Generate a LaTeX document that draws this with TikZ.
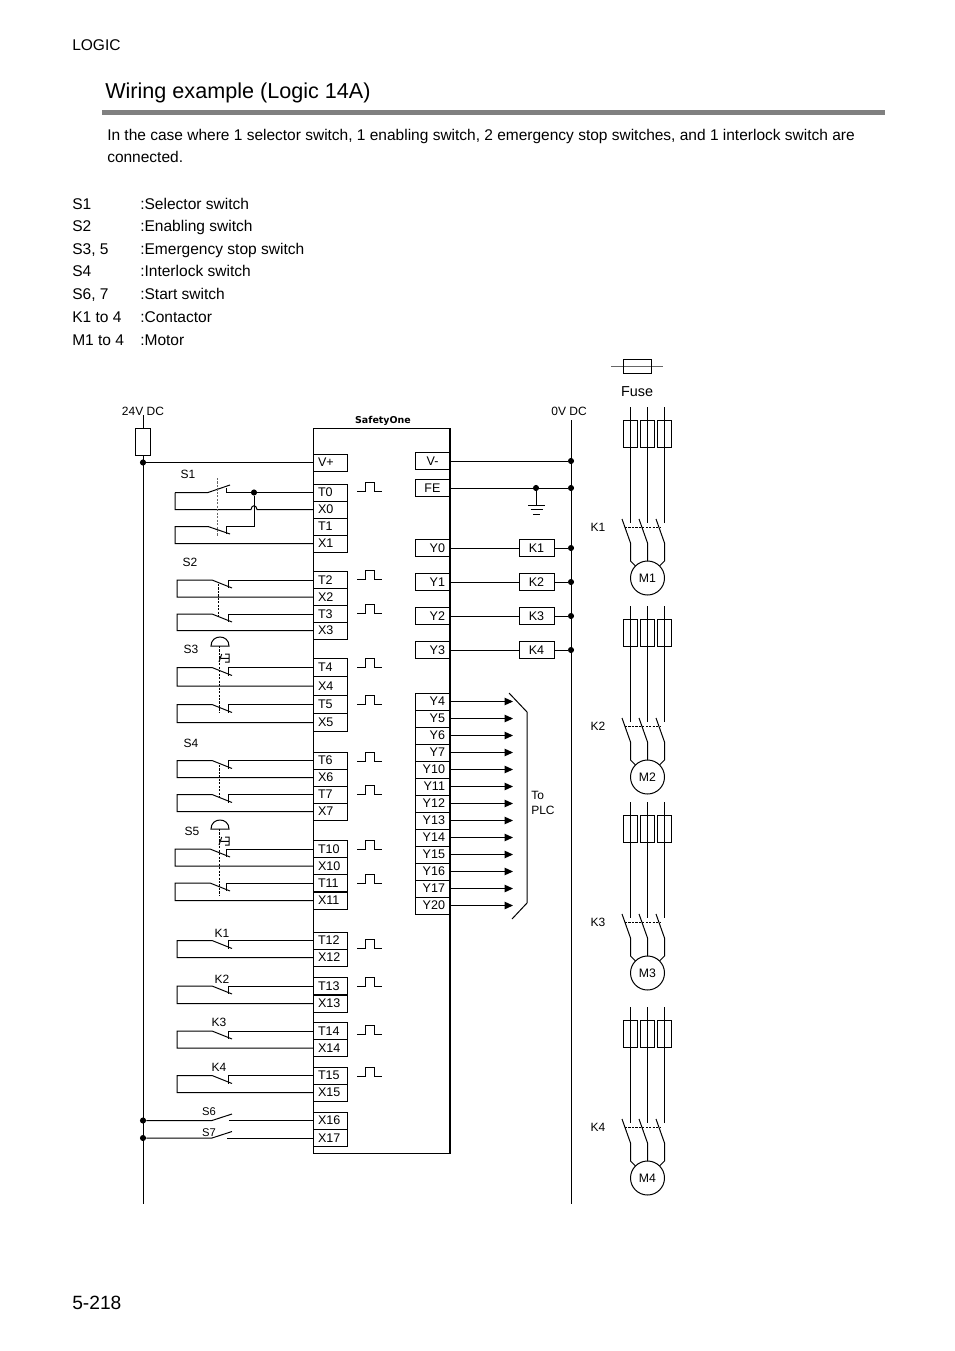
\documentclass[tikz,border=0pt]{standalone}
\usepackage{fontspec}
\setmainfont{Liberation Sans}
\newfontfamily\logofont{DejaVu Sans}
\usetikzlibrary{arrows.meta}
\tikzset{
    wire/.style={line width=0.75pt},
    pagetext/.style={font=\fontsize{11.65}{16.5}\selectfont,anchor=base west,inner sep=0pt},
    smalltext/.style={font=\fontsize{9}{11.3}\selectfont,inner sep=0pt},
    term/.style={draw,line width=0.75pt,fill=white,anchor=west,outer sep=0pt,font=\fontsize{9.4}{11}\selectfont,
        inner xsep=3.75pt,inner ysep=0pt,text width=18pt,align=left,minimum height=12.75pt},
    rterm/.style={term,text width=18.75pt,align=right},
    cterm/.style={rterm,align=center},
    tall/.style={minimum height=13.9pt},
    fuse/.style={draw,line width=0.75pt,fill=none,inner sep=0pt,minimum width=10.8pt,minimum height=20.25pt},
    dot/.style={circle,fill=black,inner sep=0pt,minimum size=4.6pt},
    motor/.style={draw,circle,line width=0.75pt,inner sep=0pt,outer sep=0pt,minimum size=25.5pt,font=\fontsize{9.2}{11}\selectfont},
    link/.style={line width=0.6pt,dash pattern=on 1.6pt off 1pt},
}
\begin{document}
\begin{tikzpicture}[x=0.75pt,y=-0.75pt]
    \useasboundingbox (0,0) rectangle (954,1351);
    %Page text
    \node[pagetext] (header) at (72,50.5) {LOGIC};
    \node[pagetext,font=\fontsize{16.2}{20}\selectfont] (title) at (105,99) {Wiring example (Logic 14A)};
    \fill[black!50] (102,110.5) rectangle (885,115.5);
    \node[pagetext,align=left,font=\fontsize{11.62}{16.5}\selectfont] (intro) at (107,163) {In the case where 1 selector switch, 1 enabling switch, 2 emergency stop switches, and 1 interlock switch are\\connected.};
    \foreach \i/\a/\b/\y in {1/S1/Selector switch/209.5,2/S2/Enabling switch/232,3/{S3, 5}/Emergency stop switch/254.5,
        4/S4/Interlock switch/277,5/{S6, 7}/Start switch/299.5,6/K1 to 4/Contactor/322.5,7/M1 to 4/Motor/345.5} {
        \node[pagetext] (key\i) at (72,\y) {\a};
        \node[pagetext] (val\i) at (140,\y) {:\b};
    }
    \node[pagetext,font=\fontsize{14.4}{18}\selectfont] (page) at (72,1309) {5-218};
    %Fuse legend
    \coordinate (legl) at (611,367);
    \coordinate (legr) at (663,367);
    \draw[wire,black!60] (legl) -- (legr);
    \node[draw,line width=0.75pt,inner sep=0pt,minimum width=21pt,minimum height=10.5pt] (leg) at (637,367) {};
    \node[font=\fontsize{10.8}{13}\selectfont,inner sep=0pt] (legtext) at (637,391.5) {Fuse};
    %Unit
    \node[smalltext] (top24) at (143,411) {24V DC};
    \node[smalltext] (top0) at (569,411) {0V DC};
    \node[font=\logofont\bfseries\fontsize{7.1}{9}\selectfont,inner sep=0pt] (logo) at (383,420.5) {SafetyOne};
    \node[draw,line width=0.75pt,anchor=north west,outer sep=0pt,minimum width=102.75pt,minimum height=543.75pt,inner sep=0pt] (unit) at (313,428) {};
    %Left terminals
    \node[term] (Vp) at (313,462.5) {V+};
    \foreach \t/\y in {T0/492.5,X0/509.5,T1/526.5,X1/543.5,T2/580,X2/597,T3/614,X3/630.5,
        T6/760.5,X6/777.5,T7/794.5,X7/811.5,T10/849,X10/866,T11/883,X11/900.5,
        T12/940.5,X12/957.5,T13/986,X13/1003.5,T14/1031,X14/1048,T15/1075.5,X15/1092.5,X16/1120.5,X17/1138} {
        \node[term] (\t) at (313,\y) {\t};
    }
    \foreach \t/\y in {T4/667.5,X4/686,T5/704.5,X5/722.5} {
        \node[term,tall] (\t) at (313,\y) {\t};
    }
    %Right terminals
    \node[cterm] (Vm) at (415,461) {V-};
    \node[cterm] (FE) at (415,488) {FE};
    \foreach \t/\y in {Y0/548,Y1/582,Y2/616,Y3/650,Y4/701.5,Y5/718.5,Y6/735.5,Y7/752.5,Y10/769.5,Y11/786.5,
        Y12/803.5,Y13/820.5,Y14/837.5,Y15/854.5,Y16/871.5,Y17/888.5,Y20/905.5} {
        \node[rterm] (\t) at (415,\y) {\t};
    }
    \draw[line width=1.6pt] (unit.north east) -- (unit.south east);
    %24V rail
    \coordinate (railat) at (143,415);
    \coordinate (railab) at (143,1204);
    \draw[wire] (railat) -- (railab);
    \node[fuse,fill=white] (fuse24) at (143,441.5) {};
    \node[dot] (dotV) at (143,462.5) {};
    \node[dot] (dot16) at (143,1120.5) {};
    \node[dot] (dot17) at (143,1138) {};
    \draw[wire] (dotV) -- (Vp.west);
    %0V rail
    \coordinate (railbt) at (571,420);
    \coordinate (railbb) at (571,1204);
    \draw[wire] (railbt) -- (railbb);
    \node[dot] (dotVm) at (571,461) {};
    \node[dot] (dotFE) at (571,488) {};
    \draw[wire] (Vm.east) -- (dotVm);
    \draw[wire] (FE.east) -- (dotFE);
    %Ground
    \node[dot] (dotG) at (536,488) {};
    \coordinate (gnd) at (536,505);
    \draw[wire] (dotG) -- (gnd);
    \draw[wire] (528,505) -- (545,505);
    \draw[wire] (530.5,509.5) -- (542.5,509.5);
    \draw[wire] (533,514) -- (539.5,514);
    %Coils
    \foreach \y/\k in {Y0/1,Y1/2,Y2/3,Y3/4} {
        \node[cterm] (K\k) at (519,0 |- \y.east) {K\k};
        \node[dot] (dotK\k) at (571,0 |- \y.east) {};
        \draw[wire] (\y.east) -- (K\k.west);
        \draw[wire] (K\k.east) -- (dotK\k);
    }
    %Outputs to PLC
    \foreach \y in {Y4,Y5,Y6,Y7,Y10,Y11,Y12,Y13,Y14,Y15,Y16,Y17,Y20} {
        \coordinate (\y e) at (513,0 |- \y.east);
        \draw[wire,-{Triangle[length=6.2pt,width=5.5pt]}] (\y.east) -- (\y e);
    }
    \draw[wire] (509,693) -- (527,712) -- (527,903) -- (512,919);
    \node[smalltext,anchor=west,align=left] (plc) at (531,802.5) {To\\PLC};
    %Test pulses
    \foreach \y in {491.5,579,613,667,704,761,794,849,883,948,986,1034,1076} {
        \draw[wire] (357,\y) -- ++(8,0) -- ++(0,-9) -- ++(9,0) -- ++(0,9) -- ++(8,0);
    }
    %S1
    \node[smalltext] (S1) at (188,474) {S1};
    \node[dot] (dotS1) at (254,492.5) {};
    \coordinate (T0l) at (175,0 |- T0.west);
    \coordinate (T0b) at (208,0 |- T0.west);
    \coordinate (T1l) at (175,0 |- T1.west);
    \coordinate (T1b) at (208,0 |- T1.west);
    \draw[wire] (T0.west) -- (226,492.5) -- (226,488);
    \draw[wire] (T0l) -- (T0b) -- (230,485);
    \draw[wire] (X0.west) -- (257,509.5) .. controls (256.5,504.5) and (251.5,504.5) .. (251,509.5) -- (175,509.5) -- (T0l);
    \draw[wire] (X1.west) -- (175,543.5) -- (T1l) -- (T1b) -- (230,534);
    \draw[wire] (dotS1) -- (254,526.5) -- (226,526.5) -- (226,534);
    \draw[link,black!60] (217,478) -- (217,536);
    %NC contacts
    \foreach \t/\x/\lx/\bx in {T2/X2/177/212,T3/X3/177/212,T4/X4/177/212,T5/X5/177/212,T6/X6/177/212,T7/X7/177/212,
        T10/X10/175/210,T11/X11/175/210,T12/X12/177/212,T13/X13/177/212,T14/X14/177/212,T15/X15/177/212} {
        \coordinate (\t l) at (\lx,0 |- \t.west);
        \coordinate (\t b) at (\bx,0 |- \t.west);
        \coordinate (\t r) at ([shift={(16,8)}]\t b);
        \coordinate (\x l) at (\lx,0 |- \x.west);
        \draw[wire] (\x.west) -- (\x l) -- (\t l) -- (\t b) -- ++(20,8);
        \draw[wire] (\t.west) -| (\t r);
    }
    %S2 and S4
    \node[smalltext] (S2) at (190,562) {S2};
    \node[smalltext] (S4) at (191,743) {S4};
    \draw[link] (218,584) -- (218,616);
    \draw[link] (219,765) -- (219,798);
    %S3 and S5
    \node[smalltext] (S3) at (191,649) {S3};
    \node[smalltext] (S5) at (192,831) {S5};
    \foreach \y in {0,183} {
        \begin{scope}[yshift=-0.75pt*\y]
            \draw[wire] (211,646) .. controls (211,634) and (229,634) .. (229,646) -- cycle;
            \draw[wire] (219,662) -- (221.7,654) (221,658.3) -- (229,658.3) (225,654) -- (229,654) -- (229,662) -- (225,662);
            \draw[link] (219,646) -- (219,712);
        \end{scope}
    }
    %Contactor feedback
    \node[smalltext] (fbk1) at (222,933) {K1};
    \node[smalltext] (fbk2) at (222,979) {K2};
    \node[smalltext] (fbk3) at (219,1022) {K3};
    \node[smalltext] (fbk4) at (219,1067) {K4};
    %S6 and S7
    \node[smalltext,font=\fontsize{8.4}{10}\selectfont] (S6) at (209,1112) {S6};
    \node[smalltext,font=\fontsize{8.4}{10}\selectfont] (S7) at (209,1133) {S7};
    \coordinate (S6b) at (212,1120.5);
    \coordinate (S6r) at (229,1120.5);
    \coordinate (S7b) at (212,1138);
    \coordinate (S7r) at (227,1138);
    \draw[wire] (dot16) -- (S6b) -- ++(20,-6.5);
    \draw[wire] (S6r) -- (X16.west);
    \draw[wire] (dot17) -- (S7b) -- ++(20,-6.5);
    \draw[wire] (S7r) -- (X17.west);
    %Motors
    \foreach \k/\d in {1/0,2/199,3/395,4/600} {
        \begin{scope}[yshift=-0.75pt*\d]
            \node[motor] (M\k) at (647.5,578) {M\k};
            \node[smalltext] (coil\k) at (598,527) {K\k};
            \foreach \p/\x/\ang in {a/630.5/135,b/647.5/90,c/664.5/45} {
                \coordinate (in\p\k) at (\x,407);
                \coordinate (out\p\k) at (\x,523);
                \coordinate (bt\p\k) at (\x-8.5,519);
                \coordinate (bb\p\k) at (\x,543);
                \node[fuse] (F\p\k) at (\x,433.5) {};
                \draw[wire] (in\p\k) -- (out\p\k);
                \draw[wire] (bt\p\k) -- (bb\p\k) -- ++(0,18) -- (M\k.\ang);
            }
            \draw[link] (625,527) -- (661,527);
        \end{scope}
    }
\end{tikzpicture}
\end{document}
